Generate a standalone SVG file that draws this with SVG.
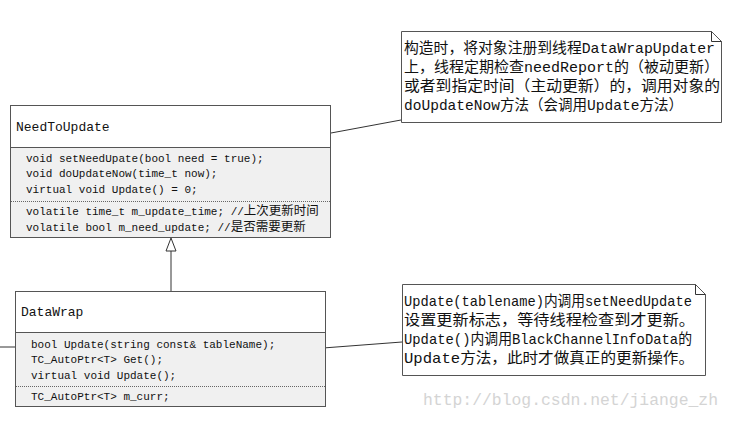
<svg xmlns="http://www.w3.org/2000/svg" width="735" height="422" viewBox="0 0 735 422">
<style>
.box{stroke:#555;stroke-width:1;}
.title{fill:#fff;}
.body{fill:#f0f0f0;}
.sep{stroke:#555;stroke-width:1;}
.dot{stroke:#666;stroke-width:1;stroke-dasharray:1,1;}
.t{font-family:"Liberation Mono","Noto Sans CJK SC",monospace;fill:#111;}
.tt{font-size:13px;}
.m{font-size:11px;}
.cj{font-size:12.5px;}
.n{font-size:15px;}
.note{fill:#fff;stroke:#555;stroke-width:1;}
.conn{stroke:#333;stroke-width:1;fill:none;}
.wm{font-family:"Liberation Mono","DejaVu Sans Mono",monospace;font-size:16px;fill:#d4d4d4;}
</style>
<rect width="735" height="422" fill="#fff"/>

<g id="connectors">
  <line class="conn" x1="331" y1="133" x2="401" y2="120"/>
  <line class="conn" x1="323" y1="348" x2="402" y2="342"/>
  <line class="conn" x1="0" y1="347" x2="15" y2="347"/>
  <line class="conn" x1="171" y1="291" x2="171" y2="251"/>
  <polygon points="171,238 166,251 176,251" fill="#fff" stroke="#333" stroke-width="1"/>
</g>

<g id="NeedToUpdate">
  <rect class="title box" x="10.5" y="105.5" width="320" height="42"/>
  <rect class="body box" x="10.5" y="147.5" width="320" height="90"/>
  <line class="dot" x1="11" y1="201.5" x2="330" y2="201.5"/>
  <text class="t tt" x="16" y="131">NeedToUpdate</text>
  <text class="t m" x="26" y="162">void setNeedUpate(bool need = true);</text>
  <text class="t m" x="26" y="177">void doUpdateNow(time_t now);</text>
  <text class="t m" x="26" y="193">virtual void Update() = 0;</text>
  <text class="t m" x="26" y="215">volatile time_t m_update_time; //<tspan class="cj">上次更新时间</tspan></text>
  <text class="t m" x="26" y="231">volatile bool m_need_update; //<tspan class="cj">是否需要更新</tspan></text>
</g>

<g id="DataWrap">
  <rect class="title box" x="15.5" y="291.5" width="310" height="41"/>
  <rect class="body box" x="15.5" y="332.5" width="310" height="74"/>
  <line class="dot" x1="16" y1="386.5" x2="325" y2="386.5"/>
  <text class="t tt" x="21" y="316">DataWrap</text>
  <text class="t m" x="31" y="348">bool Update(string const&amp; tableName);</text>
  <text class="t m" x="31" y="363">TC_AutoPtr&lt;T&gt; Get();</text>
  <text class="t m" x="31" y="379">virtual void Update();</text>
  <text class="t m" x="31" y="400">TC_AutoPtr&lt;T&gt; m_curr;</text>
</g>

<g id="note1">
  <path class="note" d="M401.5,31.5 H711.5 L721.5,41.5 V122.5 H401.5 Z"/>
  <path class="conn" d="M711.5,31.5 V41.5 H721.5" stroke="#555"/>
  <text class="t n" x="404" y="53" textLength="311" lengthAdjust="spacingAndGlyphs">构造时，将对象注册到线程DataWrapUpdater</text>
  <text class="t n" x="404" y="72" textLength="315" lengthAdjust="spacingAndGlyphs">上，线程定期检查needReport的（被动更新）</text>
  <text class="t n" x="404" y="91" textLength="316" lengthAdjust="spacingAndGlyphs">或者到指定时间（主动更新）的，调用对象的</text>
  <text class="t n" x="404" y="110" textLength="279" lengthAdjust="spacingAndGlyphs">doUpdateNow方法（会调用Update方法）</text>
</g>

<g id="note2">
  <path class="note" d="M402.5,284.5 H695.5 L705.5,294.5 V375.5 H402.5 Z"/>
  <path class="conn" d="M695.5,284.5 V294.5 H705.5" stroke="#555"/>
  <text class="t n" x="404" y="306" textLength="288" lengthAdjust="spacingAndGlyphs">Update(tablename)内调用setNeedUpdate</text>
  <text class="t n" x="404" y="325" textLength="291" lengthAdjust="spacingAndGlyphs">设置更新标志，等待线程检查到才更新。</text>
  <text class="t n" x="404" y="344" textLength="288" lengthAdjust="spacingAndGlyphs">Update()内调用BlackChannelInfoData的</text>
  <text class="t n" x="404" y="363" textLength="290" lengthAdjust="spacingAndGlyphs">Update方法，此时才做真正的更新操作。</text>
</g>

<text class="wm" x="423" y="405" textLength="295" lengthAdjust="spacingAndGlyphs">http://blog.csdn.net/jiange_zh</text>
</svg>
